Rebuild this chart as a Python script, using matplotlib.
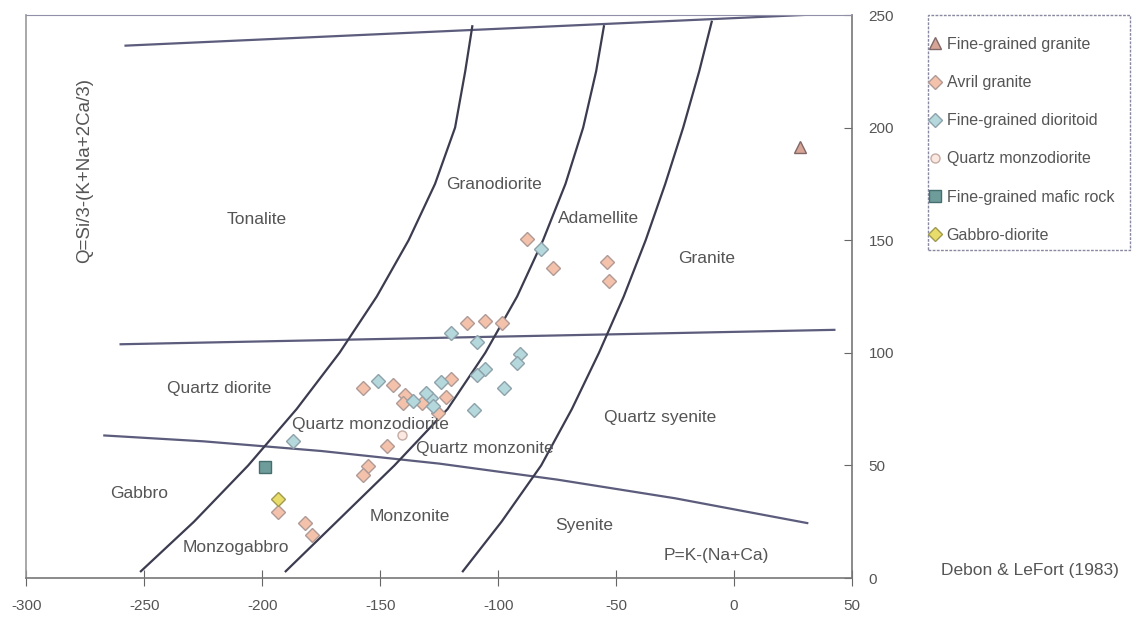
import matplotlib
matplotlib.use("Agg")
import matplotlib.pyplot as plt
from matplotlib.patches import Rectangle

plt.rcParams['font.family'] = ['Liberation Sans', 'DejaVu Sans']
plt.rcParams['axes.unicode_minus'] = False

# boundary lines of the Debon & Le Fort P-Q diagram
top_x = [-258, 46]
top_y = [236.4, 250.8]
mid_x = [-260.1, 42.5]
mid_y = [103.8, 110.2]
low_x = [-267, -225, -175, -125, -75, -25, 31]
low_y = [63.3, 60.7, 56.4, 50.8, 43.7, 35.4, 24.4]

curveA_x = [-251.5, -229, -206, -185.5, -167.3, -151.5, -138, -126.8, -118.3, -114, -111]
curveA_y = [3, 25, 50, 75, 100, 125, 150, 175, 200, 225, 245]
curveB_x = [-190.1, -168.5, -144, -121.5, -105.5, -92, -81, -71.5, -64, -58.5, -55.2]
curveB_y = [3, 25, 50, 75, 100, 125, 150, 175, 200, 225, 245]
curveC_x = [-115, -98.6, -81.8, -68.8, -57.3, -46.8, -37.5, -29.2, -21.6, -14.8, -9.5]
curveC_y = [3, 25, 50, 75, 100, 125, 150, 175, 200, 225, 247]

# samples
fg_granite_x = [27.8]
fg_granite_y = [191.4]

avril_x = [-87.6, -76.6, -53.8, -53.1, -113.2, -105.6, -98.5, -120.2, -122, -125.5,
           -157.2, -144.5, -139.6, -140.3, -132.3, -147.3, -155.3, -157.2, -193.3,
           -182.1, -179]
avril_y = [150.6, 137.5, 140.2, 132, 113.4, 114.2, 113.4, 88.5, 80.5, 73.4,
           84.5, 85.5, 81.1, 77.8, 77.8, 58.5, 49.6, 45.9, 29.5,
           24.4, 19.2]

dioritoid_x = [-82, -119.9, -109, -90.6, -92.1, -105.6, -109, -97.4, -110.3, -124.1,
               -128.4, -127.6, -150.8, -136.1, -130.5, -187.1]
dioritoid_y = [146.1, 108.7, 105, 99.3, 95.3, 92.7, 90, 84.5, 74.5, 87,
               80, 76.3, 87.4, 78.5, 82.3, 60.7]

qmd_x = [-141]
qmd_y = [63.3]

mafic_x = [-198.9]
mafic_y = [49.1]

gabbro_x = [-193.3]
gabbro_y = [35.1]

fields = ["Tonalite", "Granodiorite", "Adamellite", "Granite", "Quartz diorite",
          "Quartz monzodiorite", "Quartz monzonite", "Quartz syenite", "Gabbro",
          "Monzogabbro", "Monzonite", "Syenite", "P=K-(Na+Ca)"]
fields_x = [-202.3, -101.6, -57.3, -11.6, -218.4, -154, -105.8, -31.3, -252.1,
            -211.3, -137.3, -63.6, -7.4]
fields_y = [159, 174.6, 159.8, 142, 84, 68, 57.5, 71.1, 37.4, 13.7, 27.2, 23.2, 9.8]

txt = '#555555'
fig = plt.figure(figsize=(11.32, 6.23), dpi=100)
ax = fig.add_axes([0.0234, 0.0722, 0.7293, 0.9037])

for xs, ys in [(top_x, top_y), (mid_x, mid_y), (low_x, low_y)]:
    ax.plot(xs, ys, color='#5c5c7c', lw=1.6)
for xs, ys in [(curveA_x, curveA_y), (curveB_x, curveB_y), (curveC_x, curveC_y)]:
    ax.plot(xs, ys, color='#3c3c50', lw=1.6)

ax.plot(fg_granite_x, fg_granite_y, '^', ms=8, mfc='#d8a496', mec='#806868', ls='none',
        label='Fine-grained granite')
ax.plot(avril_x, avril_y, 'D', ms=7.5, mfc='#f4c2aa', mec='#b09a96', ls='none',
        label='Avril granite')
ax.plot(dioritoid_x, dioritoid_y, 'D', ms=7.5, mfc='#b4d8dc', mec='#8ea2aa', ls='none',
        label='Fine-grained dioritoid')
ax.plot(qmd_x, qmd_y, 'o', ms=6.5, mfc='#fbe8e0', mec='#c4aca4', ls='none',
        label='Quartz monzodiorite')
ax.plot(mafic_x, mafic_y, 's', ms=8, mfc='#6e9c9a', mec='#466e6e', ls='none',
        label='Fine-grained mafic rock')
ax.plot(gabbro_x, gabbro_y, 'D', ms=7.5, mfc='#e8dc6a', mec='#a09a50', ls='none',
        label='Gabbro-diorite')

for name, x, y in zip(fields, fields_x, fields_y):
    ax.text(x, y, name, ha='center', va='center', fontsize=12.5, color=txt)

ax.text(-275.3, 181, "Q=Si/3-(K+Na+2Ca/3)", rotation=90, ha='center', va='center',
        fontsize=13.5, color=txt)

ax.set_xlim(-300, 50)
ax.set_ylim(0, 250)
ax.set_xticks(range(-300, 51, 50))
ax.set_yticks(range(0, 251, 50))
ax.yaxis.tick_right()
ax.tick_params(axis='y', direction='in', length=6, color='#666', labelcolor=txt,
               labelsize=11, pad=12)
ax.tick_params(axis='x', direction='inout', length=12, color='#666', labelcolor=txt,
               labelsize=11, pad=9)
for s in ['left', 'right', 'bottom']:
    ax.spines[s].set_color('#777')
    ax.spines[s].set_linewidth(1.2)
ax.spines['top'].set_color('#9090a8')
ax.spines['top'].set_linestyle((0, (2, 1)))
ax.spines['left'].set_color('#999')

# legend box drawn separately so that it can be taller than the entries need
fig.patches.append(Rectangle((928 / 1132, 1 - 250 / 623), 202 / 1132, 235 / 623,
                             transform=fig.transFigure, fill=False, ec='#8888a0',
                             lw=1.0, ls=(0, (2, 1))))
leg = fig.legend(loc='upper left', bbox_to_anchor=(929 / 1132, 1 - 37 / 623),
                 fontsize=11.5, labelspacing=1.45, handlelength=0.7, handletextpad=0.4,
                 borderpad=0, frameon=False, borderaxespad=0)
for t in leg.get_texts():
    t.set_color(txt)

fig.text(1030 / 1132, 1 - 570 / 623, "Debon & LeFort (1983)", ha='center', va='center',
         fontsize=12.5, color=txt)

fig.savefig("out.png", dpi=100)
